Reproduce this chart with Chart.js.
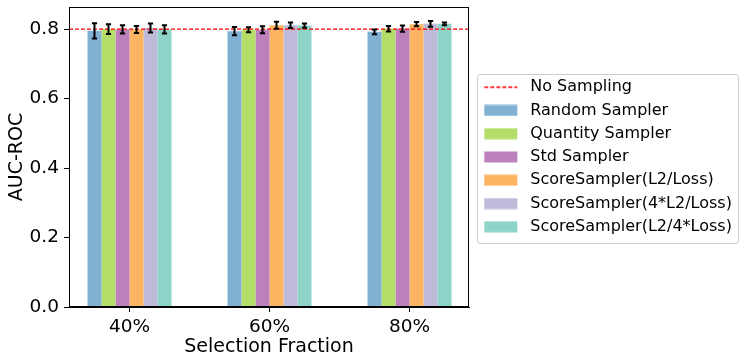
<!DOCTYPE html>
<html><head><meta charset="utf-8">
<script src="https://cdn.jsdelivr.net/npm/chart.js@4.4.0/dist/chart.umd.min.js"></script>
<style>html,body{margin:0;padding:0;background:#fff}#wrap{width:747px;height:364px;position:relative}</style>
</head><body><div id="wrap"><canvas id="c" width="747" height="364"></canvas></div>
<script>
// ---- data ----
const categories = ['40%', '60%', '80%'];
const seriesNames = ['Random Sampler', 'Quantity Sampler', 'Std Sampler',
  'ScoreSampler(L2/Loss)', 'ScoreSampler(4*L2/Loss)', 'ScoreSampler(L2/4*Loss)'];
const seriesColors = ['#80b1d3', '#b3de69', '#bc80bd', '#fdb462', '#bebada', '#8dd3c7'];

const randomSampler   = [0.795, 0.794, 0.792];
const quantitySampler = [0.800, 0.798, 0.801];
const stdSampler      = [0.799, 0.798, 0.801];
const scoreL2Loss     = [0.799, 0.811, 0.814];
const score4L2Loss    = [0.803, 0.811, 0.815];
const scoreL24Loss    = [0.799, 0.810, 0.815];

const randomErr   = [0.022, 0.012, 0.007];
const quantityErr = [0.014, 0.007, 0.008];
const stdErr      = [0.012, 0.010, 0.009];
const l2LossErr   = [0.010, 0.010, 0.006];
const l24L2Err    = [0.013, 0.008, 0.008];
const l24LossErr  = [0.012, 0.006, 0.004];

const noSampling = 0.8;
const yTicks = [0.0, 0.2, 0.4, 0.6, 0.8];
const xLimits = [-0.432, 2.425];
const yLimits = [0, 0.8635];

const seriesValues = [randomSampler, quantitySampler, stdSampler, scoreL2Loss, score4L2Loss, scoreL24Loss];
const seriesErrors = [randomErr, quantityErr, stdErr, l2LossErr, l24L2Err, l24LossErr];

// ---- legend handles ----
function makeHandle(color, dashed) {
  const c = document.createElement('canvas');
  c.width = 46; c.height = 12;
  const g = c.getContext('2d');
  if (dashed) {
    g.strokeStyle = color; g.lineWidth = 1.3; g.setLineDash([4, 2]);
    g.beginPath(); g.moveTo(8, 6); g.lineTo(41, 6); g.stroke();
  } else {
    g.fillStyle = color; g.fillRect(8, 0.5, 33, 11);
  }
  return c;
}
const handles = [makeHandle('#ff0000', true)].concat(seriesColors.map(c => makeHandle(c, false)));

// ---- datasets ----
const datasets = [{
  type: 'line',
  label: 'No Sampling',
  data: [{x: xLimits[0], y: noSampling}, {x: xLimits[1], y: noSampling}],
  borderColor: '#ff0000', borderWidth: 1.3, borderDash: [4, 2],
  pointRadius: 0, fill: false, order: 0
}].concat(seriesNames.map((name, si) => ({
  type: 'bar',
  label: name,
  data: categories.map((_, i) => ({x: i, y: seriesValues[si][i]})),
  backgroundColor: seriesColors[si],
  borderWidth: 0,
  errIndex: si,
  order: 1,
  categoryPercentage: 0.6,
  barPercentage: 1.0
})));

const FONT = 'DejaVu Sans';
const LEGEND_WIDTH = 274;

const errorBars = {
  id: 'errorBars',
  afterDatasetsDraw(chart) {
    const ctx = chart.ctx, ys = chart.scales.y;
    ctx.save();
    ctx.strokeStyle = '#000'; ctx.lineWidth = 2;
    chart.data.datasets.forEach((ds, di) => {
      if (ds.type !== 'bar') return;
      const meta = chart.getDatasetMeta(di);
      meta.data.forEach((bar, i) => {
        const v = ds.data[i].y, e = seriesErrors[ds.errIndex][i];
        const y1 = ys.getPixelForValue(v + e), y2 = ys.getPixelForValue(v - e);
        const x = bar.x;
        ctx.beginPath();
        ctx.moveTo(x, y1); ctx.lineTo(x, y2);
        ctx.moveTo(x - 2.6, y1); ctx.lineTo(x + 2.6, y1);
        ctx.moveTo(x - 2.6, y2); ctx.lineTo(x + 2.6, y2);
        ctx.stroke();
      });
    });
    ctx.restore();
  }
};

const legendWidthFix = {
  id: 'legendWidthFix',
  beforeLayout(chart) {
    const lg = chart.legend;
    if (lg && !lg._patched) {
      const orig = lg.fit.bind(lg);
      lg.fit = function () {
        this.maxWidth = 400;
        orig();
        this.width = LEGEND_WIDTH;
      };
      lg._patched = true;
    }
  }
};

const frames = {
  id: 'frames',
  afterDraw(chart) {
    const ctx = chart.ctx, a = chart.chartArea;
    ctx.save();
    ctx.strokeStyle = '#000'; ctx.lineWidth = 1;
    ctx.strokeRect(Math.round(a.left) + 0.5, Math.round(a.top) + 0.5,
      Math.round(a.right - a.left) - 1, Math.round(a.bottom - a.top) - 1);
    const hb = chart.legend.legendHitBoxes;
    if (hb && hb.length) {
      const left = hb[0].left + 1;
      const top = hb[0].top - 5;
      const right = Math.max(...hb.map(h => h.left + h.width)) + 6;
      const last = hb[hb.length - 1];
      const bottom = last.top + last.height + 8;
      ctx.strokeStyle = '#cccccc';
      ctx.beginPath();
      ctx.roundRect(Math.round(left) + 0.5, Math.round(top) + 0.5, Math.round(right - left), Math.round(bottom - top), 3);
      ctx.stroke();
    }
    ctx.restore();
  }
};

new Chart(document.getElementById('c'), {
  type: 'bar',
  data: { datasets },
  options: {
    responsive: false,
    animation: false,
    devicePixelRatio: 1,
    layout: { padding: { top: 7, left: 0, bottom: 0, right: 4 } },
    plugins: {
      tooltip: { enabled: false },
      legend: {
        position: 'right',
        fullSize: false,
        labels: {
          usePointStyle: true,
          pointStyleWidth: 46,
          boxHeight: 12,
          padding: 7.27,
          color: '#000',
          font: { family: FONT, size: 16 },
          generateLabels(chart) {
            const items = Chart.defaults.plugins.legend.labels.generateLabels(chart);
            return items.map(it => Object.assign(it, {
              pointStyle: handles[it.datasetIndex], lineWidth: 0, strokeStyle: 'rgba(0,0,0,0)', fontColor: '#000'
            }));
          }
        }
      }
    },
    scales: {
      x: {
        type: 'linear', min: xLimits[0], max: xLimits[1], offset: false,
        afterBuildTicks: s => { s.ticks = categories.map((_, i) => ({ value: i })); },
        ticks: { callback: v => categories[v] ?? '', font: { family: FONT, size: 18.5 }, color: '#000', padding: 4, maxRotation: 0, autoSkip: false },
        grid: { offset: false, drawOnChartArea: false, drawTicks: true, tickLength: 5, color: '#000', lineWidth: 1 },
        border: { display: true, color: '#000', width: 1 },
        title: { display: true, text: 'Selection Fraction', font: { family: FONT, size: 19 }, color: '#000', padding: { top: 0, bottom: 6 } },
        afterFit: s => { s.height = 57; s.paddingLeft = 0; s.paddingRight = 0; }
      },
      y: {
        type: 'linear', min: yLimits[0], max: yLimits[1],
        afterBuildTicks: s => { s.ticks = yTicks.map(v => ({ value: v })); },
        ticks: { callback: v => Number(v).toFixed(1), font: { family: FONT, size: 18.5 }, color: '#000', padding: 5 },
        grid: { drawOnChartArea: false, drawTicks: true, tickLength: 5, color: '#000', lineWidth: 1 },
        border: { display: true, color: '#000', width: 1 },
        title: { display: true, text: 'AUC-ROC', font: { family: FONT, size: 19 }, color: '#000', padding: { top: 6, bottom: 0 } },
        afterFit: s => { s.width = 69; s.paddingTop = 0; s.paddingBottom = 0; }
      }
    }
  },
  plugins: [legendWidthFix, errorBars, frames]
});
</script>
</body></html>
